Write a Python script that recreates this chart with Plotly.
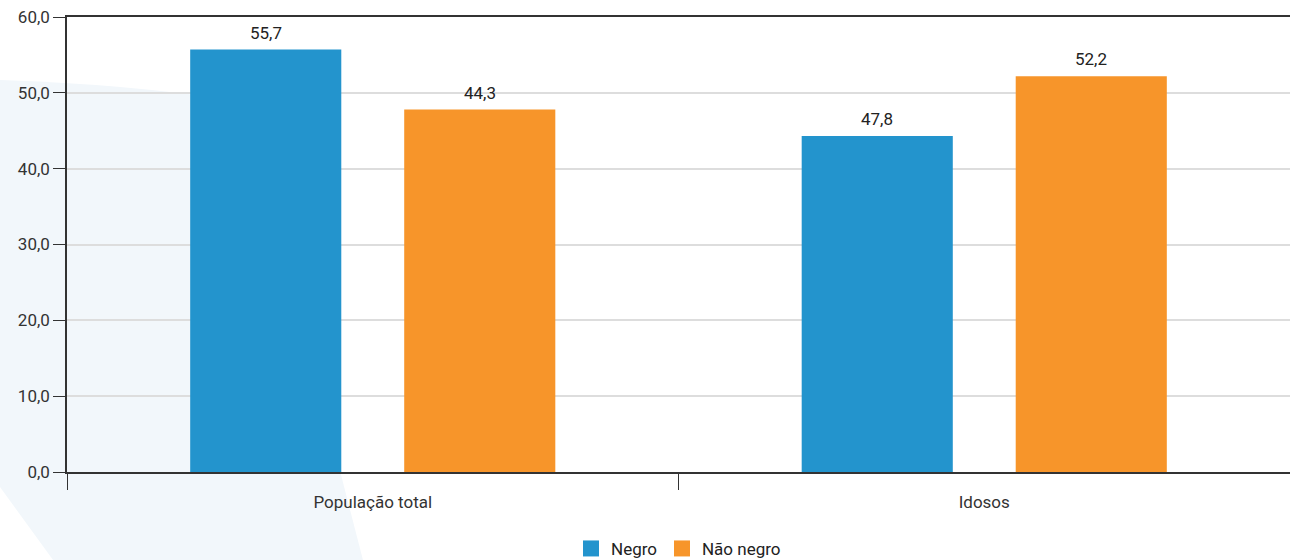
import plotly.graph_objects as go

# dados
categorias = ["População total", "Idosos"]
negro_altura = [55.7, 44.3]
nao_negro_altura = [47.8, 52.2]
negro_rotulo = ["55,7", "47,8"]
nao_negro_rotulo = ["44,3", "52,2"]
series = ["Negro", "Não negro"]

azul = "#2394cd"
laranja = "#f7952a"
fonte = "Roboto, 'Open Sans', sans-serif"

fig = go.Figure()
fig.add_trace(go.Bar(
    x=categorias, y=negro_altura, name=series[0], showlegend=False,
    marker_color=azul, marker_line_width=0,
))
fig.add_trace(go.Bar(
    x=categorias, y=nao_negro_altura, name=series[1], showlegend=False,
    marker_color=laranja, marker_line_width=0,
))
# legenda com quadrados maiores
for nome, cor in zip(series, [azul, laranja]):
    fig.add_trace(go.Scatter(
        x=[None], y=[None], mode="markers", name=nome,
        marker=dict(symbol="square", size=22, color=cor),
    ))

# rótulos acima das barras
for alturas, rotulos, desloc in [(negro_altura, negro_rotulo, -107),
                                 (nao_negro_altura, nao_negro_rotulo, 107)]:
    for cat, alt, rot in zip(categorias, alturas, rotulos):
        fig.add_annotation(x=cat, y=alt, text=rot, showarrow=False,
                           xshift=desloc, yshift=17, yanchor="middle",
                           font=dict(size=17, color="#222"))

# forma decorativa ao fundo (px -> paper)
W, H, L, T = 1223, 455, 67, 17
def px(x, y):
    return "%.4f,%.4f" % ((x - L) / W, (T + H - y) / H)
caminho = ("M " + px(0, 80) + " Q " + px(130, 84) + " " + px(245, 102)
           + " L " + px(363, 560) + " L " + px(53, 560) + " L " + px(0, 487) + " Z")
fig.add_shape(type="path", path=caminho, xref="paper", yref="paper",
              fillcolor="#f2f7fb", line_width=0, layer="below")

fig.update_layout(
    width=1290, height=560,
    margin=dict(l=67, r=0, t=17, b=88, autoexpand=False),
    paper_bgcolor="white", plot_bgcolor="rgba(0,0,0,0)",
    font=dict(family=fonte, size=16, color="#333"),
    separators=",.",
    barmode="group", bargap=0.30, bargroupgap=0.294,
    showlegend=True,
    legend=dict(orientation="h", x=0.5, xanchor="center", y=-0.169, yanchor="middle",
                font=dict(size=17, color="#222"), itemwidth=30,
                tracegroupgap=0),
)
fig.update_xaxes(
    automargin=False,
    showline=True, mirror=True, linecolor="#333", linewidth=1.5,
    tickson="boundaries", ticks="outside", ticklen=16, tickcolor="#333",
    ticklabelstandoff=14,
    tickfont=dict(size=17, color="#333"), showgrid=False,
)
fig.update_yaxes(
    automargin=False,
    range=[0, 60], dtick=10, tickformat=".1f",
    showline=True, linecolor="#333", linewidth=1.5,
    ticks="outside", ticklen=12, tickcolor="#333",
    gridcolor="#dddddd", gridwidth=1.5, zeroline=False,
    tickfont=dict(size=17, color="#333"),
)

fig.write_html(
    "out.html",
    config={"displayModeBar": False},
    post_script="document.body.style.margin='0';document.body.style.overflow='hidden';",
)
